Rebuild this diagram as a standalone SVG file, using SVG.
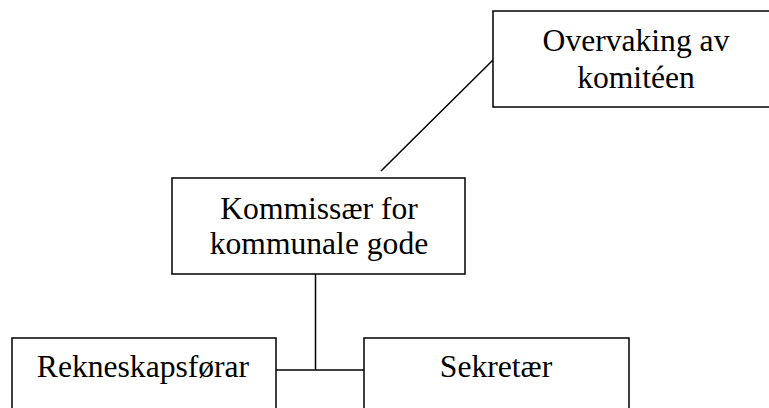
<svg xmlns="http://www.w3.org/2000/svg" width="769" height="408" viewBox="0 0 769 408">
<style>
.box{fill:#fff;stroke:#000;stroke-width:1.5}
.lbl{font-family:"Liberation Serif","Times New Roman",serif;font-size:31.6px;fill:#000;text-anchor:middle}
.conn{stroke:#000;stroke-width:1.5;fill:none}
</style>
<rect width="769" height="408" fill="#fff"/>
<g id="connectors">
<line class="conn" x1="493" y1="60" x2="381" y2="171"/>
<line class="conn" x1="315.5" y1="274" x2="315.5" y2="370"/>
<line class="conn" x1="276" y1="370" x2="364" y2="370"/>
</g>
<g id="node-overvaking">
<rect class="box" x="493" y="11" width="300" height="96"/>
<text class="lbl" x="636" y="51">Overvaking av</text>
<text class="lbl" x="636" y="88">komitéen</text>
</g>
<g id="node-kommissaer">
<rect class="box" x="172" y="178" width="293" height="96"/>
<text class="lbl" x="319" y="219">Kommissær for</text>
<text class="lbl" x="319" y="254">kommunale gode</text>
</g>
<g id="node-rekneskap">
<rect class="box" x="12" y="338" width="264" height="90"/>
<text class="lbl" x="143" y="377">Rekneskapsførar</text>
</g>
<g id="node-sekretaer">
<rect class="box" x="364" y="338" width="265" height="90"/>
<text class="lbl" x="496" y="377">Sekretær</text>
</g>
</svg>
